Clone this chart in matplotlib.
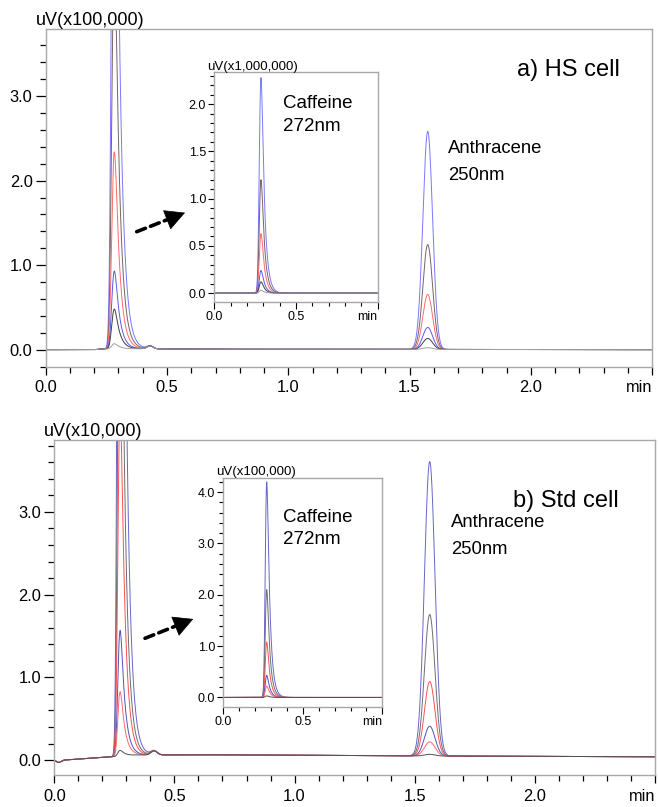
import math
import numpy as np
import matplotlib
matplotlib.use("Agg")
import matplotlib.pyplot as plt
from matplotlib.ticker import MultipleLocator, FixedLocator, FixedFormatter

plt.rcParams['font.family'] = ['Liberation Sans', 'DejaVu Sans']

W, H = 658, 807

# --- values ---
# a) HS cell, main trace at 250nm (uV x100,000)
top_colors = ['#7878ff', '#7a6262', '#ff6a6a', '#5a5aee', '#404040', '#a0a0a0']
top_caf_rt = 0.283
top_caf_h = [8.7, 4.6, 2.33, 0.92, 0.47, 0.06]
top_ant_rt = 1.575
top_ant_h = [2.58, 1.24, 0.65, 0.26, 0.13, 0.02]
top_bump_rt, top_bump_h = 0.43, 0.035
top_base_t = [0.0, 0.2, 0.245, 0.4, 0.7, 2.5]
top_base_v = [0.0, 0.0, 0.01, 0.01, 0.005, 0.0]
# inset, caffeine at 272nm (uV x1,000,000)
top_ins_rt = 0.286
top_ins_h = [2.28, 1.20, 0.63, 0.24, 0.12, 0.03]

# b) Std cell, main trace (uV x10,000)
bot_colors = ['#6666cc', '#6e6e6e', '#ff5050', '#5252b8', '#ff6868', '#505050']
bot_caf_rt = 0.274
bot_caf_h = [14.8, 7.4, 4.2, 1.52, 0.78, 0.07]
bot_ant_rt = 1.5625
bot_ant_h = [3.56, 1.71, 0.90, 0.36, 0.17, 0.02]
bot_bump_rt, bot_bump_h = 0.415, 0.05
bot_base_t = [0.0, 0.01, 0.02, 0.04, 0.24, 0.34, 0.6, 1.5, 2.5]
bot_base_v = [0.0, -0.02, -0.03, 0.0, 0.04, 0.06, 0.065, 0.05, 0.04]
# inset (uV x100,000)
bot_ins_rt = 0.273
bot_ins_h = [4.2, 2.1, 1.08, 0.43, 0.22, 0.03]

t = np.linspace(0, 2.5, 2501)
_erfc = np.frompyfunc(math.erfc, 1, 1)


def tailed_peak(rt, sig, tau):
    # exponentially modified gaussian, scaled to 1 at the apex
    d = t - rt
    z = (sig / tau - d / sig) / math.sqrt(2)
    y = np.exp(0.5 * (sig / tau) ** 2 - d / tau) * _erfc(z).astype(float)
    y = y / y.max()
    shift = t[np.argmax(y)] - rt
    return np.interp(t, t - shift, y, left=0, right=0)


def gauss(rt, sig):
    return np.exp(-0.5 * ((t - rt) / sig) ** 2)


def style_axes(ax, xmajor, xminor, ymajor, yminor, lab, inset=False):
    for s in ax.spines.values():
        s.set_color('#a8a8a8')
        s.set_linewidth(1.0)
    ax.xaxis.set_minor_locator(MultipleLocator(xminor))
    ax.yaxis.set_major_locator(MultipleLocator(ymajor))
    ax.yaxis.set_minor_locator(MultipleLocator(yminor))
    ax.yaxis.set_major_formatter(matplotlib.ticker.FormatStrFormatter('%.1f'))
    xt = [i * xmajor for i in range(len(lab))]
    ax.xaxis.set_major_locator(FixedLocator(xt))
    ax.xaxis.set_major_formatter(FixedFormatter(lab))
    fs = 9 if inset else 11.8
    if inset:
        ax.tick_params(axis='y', which='major', length=4.5, width=0.8, pad=1.5)
        ax.tick_params(axis='y', which='minor', length=3, width=0.8)
        ax.tick_params(axis='x', which='major', length=5, width=0.8, pad=2)
        ax.tick_params(axis='x', which='minor', length=3, width=0.8)
    else:
        ax.tick_params(axis='y', which='major', length=7, width=0.9, pad=2.5)
        ax.tick_params(axis='y', which='minor', length=4, width=0.9)
        ax.tick_params(axis='x', which='major', length=6, width=0.9, pad=4)
        ax.tick_params(axis='x', which='minor', length=4, width=0.9)
    ax.tick_params(which='both', direction='out', colors='black', labelsize=fs)
    # "min" sits left of the last tick
    ax.get_xticklabels()[-1].set_horizontalalignment('right')


def ftext(x, y, s, size, **kw):
    fig.text(x / W, 1 - y / H, s, fontsize=size, **kw)


def dashed_arrow(ax, tail, tip, head=13):
    # dashed shaft up to the head, then a solid filled head
    tx, ty = tail[0], H - tail[1]
    px, py = tip[0], H - tip[1]
    L = math.hypot(px - tx, py - ty)
    bx, by = px - (px - tx) * head / L, py - (py - ty) * head / L
    kw = dict(xycoords='figure pixels', textcoords='figure pixels')
    ax.annotate('', xy=(bx, by), xytext=(tx, ty),
                arrowprops=dict(arrowstyle='-', lw=2.6, ls=(0, (2.6, 1.5)),
                                color='k', shrinkA=0, shrinkB=0), **kw)
    ax.annotate('', xy=(px, py), xytext=(bx - (px - tx) * 2 / L, by - (py - ty) * 2 / L),
                arrowprops=dict(arrowstyle='-|>,head_length=0.95,head_width=0.5',
                                lw=0.5, color='k', shrinkA=0, shrinkB=0,
                                mutation_scale=14), **kw)


fig = plt.figure(figsize=(W / 100, H / 100), dpi=100)

# ---- a) HS cell ----
ax1 = fig.add_axes([0.0695, 0.5458, 0.9215, 0.4178])
base = np.interp(t, top_base_t, top_base_v) + top_bump_h * gauss(top_bump_rt, 0.012)
for c, hc, ha in zip(top_colors, top_caf_h, top_ant_h):
    y = base + hc * tailed_peak(top_caf_rt, 0.008, 0.019) + ha * gauss(top_ant_rt, 0.02)
    ax1.plot(t, y, color=c, lw=0.7)
ax1.set_xlim(0, 2.5)
ax1.set_ylim(-0.2, 3.79)
style_axes(ax1, 0.5, 0.1, 1.0, 0.2, ['0.0', '0.5', '1.0', '1.5', '2.0', 'min'])
dashed_arrow(ax1, (136.7, 231.7), (185, 212.7))

ins1 = fig.add_axes([0.3257, 0.6262, 0.2483, 0.2846])
for c, h in zip(top_colors, top_ins_h):
    ins1.plot(t, h * tailed_peak(top_ins_rt, 0.008, 0.019), color=c, lw=0.7)
ins1.set_xlim(0, 1.0)
ins1.set_ylim(-0.09, 2.34)
style_axes(ins1, 0.5, 0.1, 0.5, 0.1, ['0.0', '0.5', 'min'], inset=True)

ftext(35.7, 20.7, 'uV(x100,000)', 13, va='center')
ftext(206.7, 66.7, 'uV(x1,000,000)', 9.5, va='center')
ftext(517, 76, 'a) HS cell', 17, va='baseline')
ftext(283.3, 108.3, 'Caffeine', 13.5, va='baseline')
ftext(283.3, 131, '272nm', 13.5, va='baseline')
ftext(447.7, 153.3, 'Anthracene', 13.3, va='baseline')
ftext(447.7, 180, '250nm', 13.3, va='baseline')

# ---- b) Std cell ----
ax2 = fig.add_axes([0.0825, 0.0397, 0.9129, 0.4151])
base = np.interp(t, bot_base_t, bot_base_v) + bot_bump_h * gauss(bot_bump_rt, 0.013)
for c, hc, ha in zip(bot_colors, bot_caf_h, bot_ant_h):
    y = base + hc * tailed_peak(bot_caf_rt, 0.007, 0.018) + ha * gauss(bot_ant_rt, 0.022)
    ax2.plot(t, y, color=c, lw=0.7)
ax2.set_xlim(0, 2.5)
ax2.set_ylim(-0.18, 3.87)
style_axes(ax2, 0.5, 0.1, 1.0, 0.2, ['0.0', '0.5', '1.0', '1.5', '2.0', 'min'])
dashed_arrow(ax2, (145, 638.3), (193.3, 619))

ins2 = fig.add_axes([0.3394, 0.1243, 0.2416, 0.283])
for c, h in zip(bot_colors, bot_ins_h):
    ins2.plot(t, h * tailed_peak(bot_ins_rt, 0.007, 0.018), color=c, lw=0.7)
ins2.set_xlim(0, 1.0)
ins2.set_ylim(-0.18, 4.27)
style_axes(ins2, 0.5, 0.1, 1.0, 0.2, ['0.0', '0.5', 'min'], inset=True)

ftext(44, 431.7, 'uV(x10,000)', 13, va='center')
ftext(216, 471.7, 'uV(x100,000)', 9.5, va='center')
ftext(513, 507, 'b) Std cell', 17, va='baseline')
ftext(282.7, 521.7, 'Caffeine', 13.5, va='baseline')
ftext(282.7, 544, '272nm', 13.5, va='baseline')
ftext(450.7, 526.7, 'Anthracene', 13.3, va='baseline')
ftext(450.7, 554, '250nm', 13.3, va='baseline')

fig.savefig('out.png', dpi=100)
